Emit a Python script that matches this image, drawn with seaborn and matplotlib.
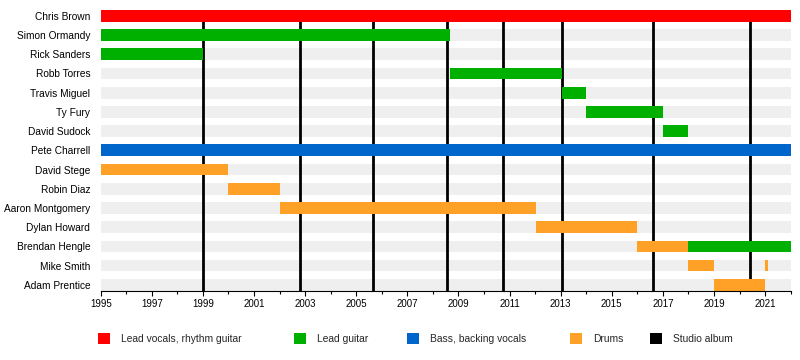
import numpy as np
import pandas as pd
import matplotlib
matplotlib.use("Agg")
import matplotlib.pyplot as plt
from matplotlib.patches import Patch
import seaborn as sns

# ---- data ----
members = ["Chris Brown", "Simon Ormandy", "Rick Sanders", "Robb Torres", "Travis Miguel",
           "Ty Fury", "David Sudock", "Pete Charrell", "David Stege", "Robin Diaz",
           "Aaron Montgomery", "Dylan Howard", "Brendan Hengle", "Mike Smith", "Adam Prentice"]

span_member = ["Chris Brown", "Simon Ormandy", "Rick Sanders", "Robb Torres", "Travis Miguel",
               "Ty Fury", "David Sudock", "Pete Charrell", "David Stege", "Robin Diaz",
               "Aaron Montgomery", "Dylan Howard", "Brendan Hengle", "Brendan Hengle",
               "Mike Smith", "Mike Smith", "Adam Prentice"]
span_role = ["Lead vocals, rhythm guitar", "Lead guitar", "Lead guitar", "Lead guitar", "Lead guitar",
             "Lead guitar", "Lead guitar", "Bass, backing vocals", "Drums", "Drums",
             "Drums", "Drums", "Drums", "Lead guitar",
             "Drums", "Drums", "Drums"]
span_start = [1995.0, 1995.0, 1995.0, 2008.65, 2013.05, 2014.0, 2017.0, 1995.0, 1995.0, 2000.0,
              2002.0, 2012.05, 2016.0, 2018.0, 2018.0, 2021.0, 2019.0]
span_end = [2022.0, 2008.65, 1999.0, 2013.05, 2014.0, 2017.0, 2018.0, 2022.0, 2000.0, 2002.0,
            2012.05, 2016.0, 2018.0, 2022.0, 2019.0, 2021.1, 2021.0]

albums = [1999.0, 2002.8, 2005.66, 2008.54, 2010.75, 2013.04, 2016.6, 2020.4]

timeline_start = 1995
timeline_end = 2022

roles = ["Lead vocals, rhythm guitar", "Lead guitar", "Bass, backing vocals", "Drums"]
role_colors = ["#ff0000", "#00b000", "#0066cc", "#ffa127"]
album_label = "Studio album"
album_color = "#000000"

df = pd.DataFrame({"member": span_member, "role": span_role,
                   "start": span_start, "end": span_end})
color_of = dict(zip(roles, role_colors))

# ---- figure ----
sns.set_theme(style="white")
plt.rcParams["font.family"] = ["Liberation Sans", "DejaVu Sans"]

fig = plt.figure(figsize=(8, 3.6), dpi=100)
ax = fig.add_axes([100.7 / 800, 1 - 290.7 / 360, 690 / 800, (290.7 - 9.9) / 360])

bar_h = 0.61

# background stripes
sns.barplot(x=[timeline_end] * len(members), y=members, order=members, color="#efefef",
            saturation=1, width=bar_h, orient="h", ax=ax, linewidth=0, zorder=1)

# album lines
for a in albums:
    ax.axvline(a, color=album_color, lw=2.0, zorder=2)

# member spans
for _, r in df.iterrows():
    ax.barh(r["member"], r["end"] - r["start"], left=r["start"], height=bar_h,
            color=color_of[r["role"]], linewidth=0, zorder=3)

ax.set_xlim(timeline_start, timeline_end)
ax.set_ylim(len(members) - 1 + 0.305, -0.305)
ax.set_xlabel("")
ax.set_ylabel("")

ax.set_xticks(np.arange(timeline_start, timeline_end, 2))
ax.set_xticks(np.arange(timeline_start, timeline_end + 1, 1), minor=True)

for s in ["left", "top", "right"]:
    ax.spines[s].set_visible(False)
ax.spines["bottom"].set_color("black")
ax.spines["bottom"].set_linewidth(0.8)
ax.spines["bottom"].set_zorder(5)

ax.tick_params(axis="x", which="both", bottom=True, color="black", width=0.8)
ax.tick_params(axis="x", which="major", length=3.6, pad=2.5, labelsize=7, labelcolor="black")
ax.tick_params(axis="x", which="minor", length=2.2)
ax.tick_params(axis="y", length=0, pad=7.5, labelsize=7.3, labelcolor="black")

# legend
legend_labels = roles + [album_label]
legend_colors = role_colors + [album_color]
legend_x_px = [98, 294, 407, 570, 650]
for lab, col, xp in zip(legend_labels, legend_colors, legend_x_px):
    fig.legend(handles=[Patch(facecolor=col, edgecolor="none", label=lab)],
               loc="center left", bbox_to_anchor=(xp / 800, 1 - 338.5 / 360),
               frameon=False, fontsize=7.35, handlelength=1.17, handleheight=1.28,
               handletextpad=1.05, borderpad=0, borderaxespad=0)

fig.savefig("out.png", dpi=100)
